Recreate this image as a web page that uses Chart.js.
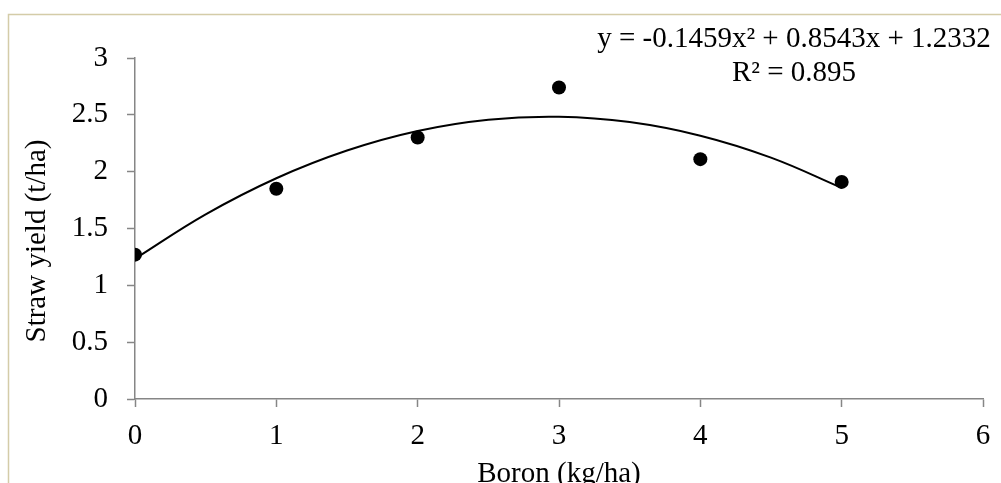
<!DOCTYPE html>
<html>
<head>
<meta charset="utf-8">
<script src="https://cdn.jsdelivr.net/npm/chart.js@4"></script>
<style>
  body { margin: 0; background: #fff; }
  #wrap { width: 1001px; height: 483px; position: relative; }
</style>
</head>
<body>
<div id="wrap"><canvas id="myChart" width="1001" height="483"></canvas></div>
<script>
// measured points
const boron = [0, 1, 2, 3, 4, 5];
const strawYield = [1.27, 1.85, 2.30, 2.74, 2.11, 1.91];

// polynomial trendline
const trendX = [0, 0.5, 1, 1.5, 2, 2.5, 3, 3.5, 4, 4.5, 5];
const trendY = [1.233, 1.624, 1.942, 2.186, 2.358, 2.457, 2.483, 2.436, 2.316, 2.123, 1.857];

const xTicks = [0, 1, 2, 3, 4, 5, 6];
const yTicks = [0, 0.5, 1, 1.5, 2, 2.5, 3];

const equationText = "y = -0.1459x\u00B2 + 0.8543x + 1.2332";
const r2Text = "R\u00B2 = 0.895";
const xTitle = "Boron (kg/ha)";
const yTitle = "Straw yield (t/ha)";

const serif = "'Liberation Serif', 'Times New Roman', serif";
const fontSize = 29;
const axisGray = "#868686";

const frameAndText = {
    id: "frameAndText",
    beforeDraw(chart) {
        const ctx = chart.ctx;
        ctx.save();
        ctx.fillStyle = "#fff";
        ctx.fillRect(0, 0, chart.width, chart.height);
        ctx.strokeStyle = "rgb(212,204,168)";
        ctx.lineWidth = 1.5;
        ctx.beginPath();
        ctx.moveTo(8.5, chart.height);
        ctx.lineTo(8.5, 14.5);
        ctx.lineTo(chart.width, 14.5);
        ctx.stroke();
        ctx.restore();
    },
    afterDraw(chart) {
        const ctx = chart.ctx;
        ctx.save();
        ctx.fillStyle = "#000";
        ctx.font = fontSize + "px " + serif;
        ctx.textAlign = "center";
        ctx.textBaseline = "alphabetic";
        ctx.fillText(equationText, 794, 47);
        ctx.fillText(r2Text, 794, 81);

        ctx.fillText(xTitle, (chart.chartArea.left + chart.chartArea.right) / 2, 482);

        ctx.translate(37, 241);
        ctx.rotate(-Math.PI / 2);
        ctx.textBaseline = "middle";
        ctx.fillText(yTitle, 0, 0);
        ctx.restore();
    }
};

const data = {
    datasets: [{
        label: "Straw yield",
        data: boron.map((b, i) => ({x: b, y: strawYield[i]})),
        backgroundColor: "#000",
        borderColor: "#000",
        pointRadius: 7,
        pointBorderWidth: 0,
        showLine: false
    }, {
        label: "Poly. trend",
        data: trendX.map((t, i) => ({x: t, y: trendY[i]})),
        borderColor: "#000",
        borderWidth: 2,
        pointRadius: 0,
        showLine: true,
        tension: 0.4
    }]
};

const config = {
    type: "scatter",
    data: data,
    plugins: [frameAndText],
    options: {
        responsive: false,
        animation: false,
        devicePixelRatio: 1,
        layout: { padding: { top: 58, right: 18, left: 0, bottom: 0 } },
        plugins: {
            legend: { display: false },
            tooltip: { enabled: false }
        },
        scales: {
            x: {
                type: "linear",
                min: 0,
                max: 6,
                afterFit: function(scale) {
                    scale.height = 84;
                    scale.paddingLeft = 0;
                    scale.paddingRight = 0;
                },
                afterBuildTicks: function(scale) { scale.ticks = xTicks.map(v => ({value: v})); },
                grid: { drawOnChartArea: false, drawTicks: true, tickLength: 8, tickColor: axisGray, tickWidth: 1.5 },
                border: { display: true, color: axisGray, width: 1.5 },
                ticks: {
                    color: "#000", font: { family: serif, size: fontSize }, padding: 12, maxRotation: 0,
                    callback: function(v) { return String(v); }
                }
            },
            y: {
                type: "linear",
                min: 0,
                max: 3,
                afterFit: function(scale) { scale.width = 135; },
                afterBuildTicks: function(scale) { scale.ticks = yTicks.map(v => ({value: v})); },
                grid: { drawOnChartArea: false, drawTicks: true, tickLength: 8, tickColor: axisGray, tickWidth: 1.5 },
                border: { display: true, color: axisGray, width: 1.5 },
                ticks: {
                    color: "#000", font: { family: serif, size: fontSize }, padding: 19,
                    callback: function(v) { return String(v); }
                }
            }
        }
    }
};

const myChart = new Chart(document.getElementById("myChart"), config);
</script>
</body>
</html>
